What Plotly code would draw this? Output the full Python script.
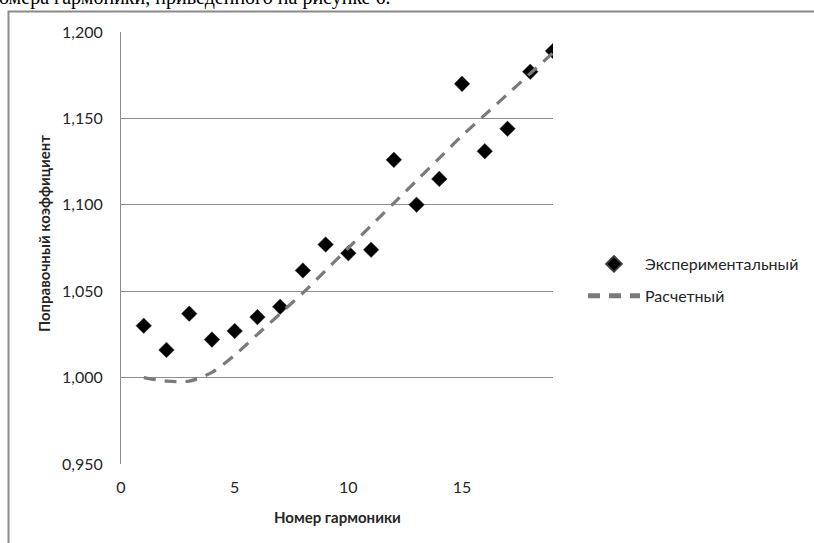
import plotly.graph_objects as go

harmonics = list(range(1, 20))
experimental = [1.030, 1.016, 1.037, 1.022, 1.027, 1.035, 1.041, 1.062, 1.077, 1.072,
                1.074, 1.126, 1.100, 1.115, 1.170, 1.131, 1.144, 1.177, 1.189]
calculated = [1.000, 0.998, 0.998, 1.003, 1.013, 1.025, 1.037, 1.049, 1.062, 1.075,
              1.088, 1.101, 1.114, 1.127, 1.140, 1.152, 1.164, 1.176, 1.188]
y_ticks = [0.95, 1.0, 1.05, 1.1, 1.15, 1.2]
x_ticks = [0, 5, 10, 15]

W, H = 814, 543
L, R, T, B = 121, 553, 32, 464
pw, ph = R - L, B - T

def px(x):
    return (x - L) / pw

def py(y):
    return (B - y) / ph

FONT = "Lato"
TXT = "#262626"

fig = go.Figure()
fig.add_trace(go.Scatter(
    x=harmonics, y=experimental, mode="markers", name="Экспериментальный",
    legendgroup="a",
    marker=dict(symbol="diamond", size=12, color="black",
                line=dict(color="#3a3a3a", width=0.5)),
))
fig.add_trace(go.Scatter(
    x=harmonics, y=calculated, mode="lines", name="Расчетный",
    legendgroup="b",
    line=dict(color="#7a7a7a", width=3.2, dash="12px,9px", shape="spline", smoothing=0.8),
))

fig.update_layout(
    width=W, height=H,
    margin=dict(l=L, r=W - R, t=T, b=H - B, pad=0, autoexpand=False),
    paper_bgcolor="white", plot_bgcolor="white",
    separators=", ",
    font=dict(family=FONT, size=16, color=TXT),
    showlegend=True,
    legend=dict(x=px(583), y=py(247), xanchor="left", yanchor="top",
                font=dict(family=FONT, size=16, color=TXT),
                tracegroupgap=8, itemwidth=52, itemsizing="constant",
                bgcolor="rgba(0,0,0,0)"),
    xaxis=dict(range=[0, 19], tickvals=x_ticks, showgrid=False, zeroline=False,
               showline=False, ticks="", ticklabelstandoff=12,
               tickfont=dict(family=FONT, size=16, color=TXT)),
    yaxis=dict(range=[0.95, 1.2], tickvals=y_ticks, tickformat=".3f",
               showgrid=True, gridcolor="#8c8c8c", gridwidth=1, zeroline=False,
               showline=True, linecolor="#8c8c8c", linewidth=1, ticks="",
               ticklabelstandoff=14,
               tickfont=dict(family=FONT, size=16, color=TXT)),
    shapes=[
        dict(type="rect", xref="paper", yref="paper",
             x0=px(8.5), y0=py(560), x1=px(830), y1=py(11.5),
             line=dict(color="#8a8a8a", width=2), fillcolor="rgba(0,0,0,0)", layer="below"),
    ],
    annotations=[
        dict(text="<b>Номер гармоники</b>", xref="paper", yref="paper",
             x=px(337), y=py(517), xanchor="center", yanchor="middle",
             showarrow=False, font=dict(family=FONT, size=15, color=TXT)),
        dict(text="<b>Поправочный коэффициент</b>", xref="paper", yref="paper",
             x=px(44), y=py(234), xanchor="center", yanchor="middle", textangle=-90,
             showarrow=False, font=dict(family=FONT, size=15, color=TXT)),
        dict(text="омера гармоники, приведенного на рисунке 6.", xref="paper", yref="paper",
             x=px(-3), y=py(11), xanchor="left", yanchor="bottom",
             showarrow=False, font=dict(family="Liberation Serif", size=20, color="black")),
    ],
)

fig.write_html("out.html", config={"displayModeBar": False},
               post_script="document.body.style.margin='0';document.body.style.overflow='hidden';")
